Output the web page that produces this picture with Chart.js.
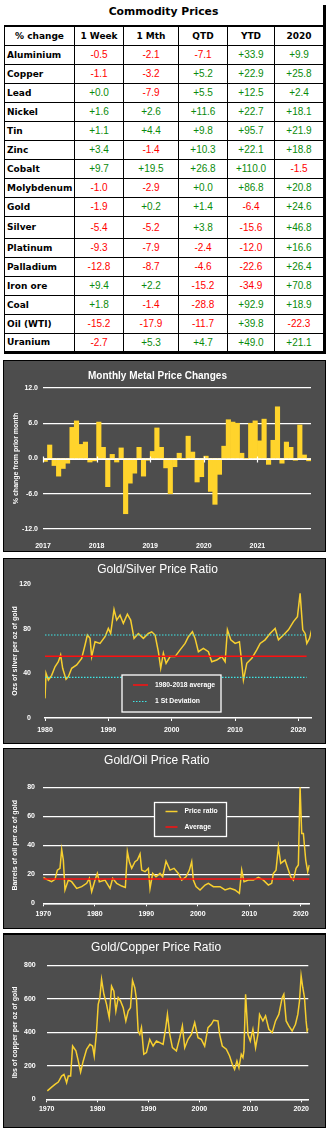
<!DOCTYPE html>
<html lang="en">
<head>
<meta charset="UTF-8">
<title>Commodity Prices</title>
<script src="https://cdn.jsdelivr.net/npm/chart.js@4"></script>
<style>
  body { margin: 0; width: 330px; height: 1132px; background: #fff; position: relative; overflow: hidden; }
  #prices { position: absolute; left: 4px; top: 5px; width: 319px; border-right: 3px solid #000; }
  #prices .caption { height: 20px; line-height: 20px; text-align: center; font: bold 10.8px 'DejaVu Sans', sans-serif; color: #000; }
  #prices table { border-collapse: collapse; table-layout: fixed; width: 319px; border-bottom: 3px solid #000; }
  #prices th, #prices td { border: 1px solid #000; padding: 0; text-align: center; }
  #prices tr { height: 19px; }
  #prices thead tr { height: 19px; }
  #prices th { border-top: 2px solid #000; font: bold 9px 'DejaVu Sans', sans-serif; color: #000; }
  #prices td { font: 10px 'Liberation Sans', Arial, sans-serif; }
  #prices td.name { text-align: left; padding-left: 2px; font: bold 9px 'DejaVu Sans', sans-serif; color: #000; }
  #prices tbody tr:nth-child(10) { height: 22px; }
  #prices td.up { color: #0a8a0a; }
  #prices td.down { color: #ff0000; }
  .panel { position: absolute; left: 3px; width: 321px; background: #4d4d4d; border: 1px solid #000; }
  .panel canvas { display: block; }
  #p1 { top: 360px; height: 190px; }
  #p2 { top: 558px; height: 184px; }
  #p3 { top: 748px; height: 179px; }
  #p4 { top: 933px; height: 192px; border-top-width: 2px; }
</style>
</head>
<body>
  <div id="prices">
    <div class="caption">Commodity Prices</div>
    <table>
      <colgroup>
        <col style="width:70px"><col style="width:49px"><col style="width:55px">
        <col style="width:49px"><col style="width:47px"><col style="width:49px">
      </colgroup>
      <thead><tr id="head-row"></tr></thead>
      <tbody id="price-rows"></tbody>
    </table>
  </div>

  <div class="panel" id="p1"><canvas id="monthlyChart" width="321" height="190"></canvas></div>
  <div class="panel" id="p2"><canvas id="silverChart" width="321" height="184"></canvas></div>
  <div class="panel" id="p3"><canvas id="oilChart" width="321" height="179"></canvas></div>
  <div class="panel" id="p4"><canvas id="copperChart" width="321" height="192"></canvas></div>

<script>
// ---- table: % change by period ----
const periods = ['% change', '1 Week', '1 Mth', 'QTD', 'YTD', '2020'];
const commodities = ['Aluminium', 'Copper', 'Lead', 'Nickel', 'Tin', 'Zinc', 'Cobalt', 'Molybdenum',
  'Gold', 'Silver', 'Platinum', 'Palladium', 'Iron ore', 'Coal', 'Oil (WTI)', 'Uranium'];
const chgWeek  = [-0.5, -1.1, 0.0, 1.6, 1.1, 3.4, 9.7, -1.0, -1.9, -5.4, -9.3, -12.8, 9.4, 1.8, -15.2, -2.7];
const chgMonth = [-2.1, -3.2, -7.9, 2.6, 4.4, -1.4, 19.5, -2.9, 0.2, -5.2, -7.9, -8.7, 2.2, -1.4, -17.9, 5.3];
const chgQtd   = [-7.1, 5.2, 5.5, 11.6, 9.8, 10.3, 26.8, 0.0, 1.4, 3.8, -2.4, -4.6, -15.2, -28.8, -11.7, 4.7];
const chgYtd   = [33.9, 22.9, 12.5, 22.7, 95.7, 22.1, 110.0, 86.8, -6.4, -15.6, -12.0, -22.6, -34.9, 92.9, 39.8, 49.0];
const chg2020  = [9.9, 25.8, 2.4, 18.1, 21.9, 18.8, -1.5, 20.8, 24.6, 46.8, 16.6, 26.4, 70.8, 18.9, -22.3, 21.1];

// ---- monthly metal price changes, Jan 2017 onwards ----
const barStartYear = 2017;
const barYearTicks = [2017, 2018, 2019, 2020, 2021];
const barValueTicks = [-12, -6, 0, 6, 12];
const monthlyChange = [
  -0.5, 2.3, -1.2, -3.0, -1.7, -0.8, 5.3, 6.4, 2.4, 2.8, -0.6, -0.4,
  6.2, 1.9, -4.8, 0.7, -0.6, 1.8, -9.4, -4.2, -2.5, 1.9, -3.0, -0.3,
  1.2, 5.2, 1.9, -1.6, -6.0, -1.4, 0.9, 0.0, 3.8, 1.1, -4.0, -3.1,
  0.4, -5.6, -7.8, -2.7, 2.1, 6.6, 6.2, 6.0, 0.9, 0.0, 6.0, 6.4,
  3.0, 6.7, -1.0, 3.1, 8.8, -0.8, 2.8, 1.9, -0.3, 5.7, 0.6, -0.4
];

// ---- gold/silver ratio ----
const gsYearTicks = [1980, 1990, 2000, 2010, 2020];
const gsValueTicks = [0, 40, 80, 120];
const gsYears = [
  1980.00, 1980.16, 1980.53, 1981.05, 1981.58, 1982.11, 1982.47, 1982.79, 1983.32, 1983.69,
  1984.21, 1985.00, 1985.79, 1986.32, 1986.69, 1987.11, 1987.37, 1987.90, 1988.69, 1989.48,
  1990.00, 1990.37, 1990.90, 1991.32, 1991.85, 1992.37, 1993.01, 1993.53, 1994.06, 1994.74,
  1995.53, 1996.32, 1996.85, 1997.38, 1997.90, 1998.27, 1998.69, 1999.12, 1999.75, 2000.54,
  2001.33, 2002.12, 2002.64, 2003.28, 2003.70, 2004.22, 2005.01, 2005.80, 2006.33, 2007.12,
  2007.91, 2008.44, 2008.80, 2009.33, 2010.02, 2010.70, 2010.96, 2011.33, 2011.86, 2012.65,
  2013.44, 2013.97, 2014.75, 2015.54, 2016.34, 2016.86, 2017.65, 2018.44, 2019.23, 2019.86,
  2020.28, 2020.70, 2021.07, 2021.34, 2021.76, 2022.13
];
const gsRatio = [
  17.6, 40.0, 34.0, 38.2, 45.9, 50.4, 56.4, 44.5, 34.6, 37.0,
  44.5, 47.5, 53.4, 65.4, 74.3, 71.3, 54.9, 68.3, 66.8, 72.8,
  80.2, 75.7, 97.2, 87.7, 92.1, 84.7, 93.0, 87.7, 71.3, 75.7,
  71.3, 75.7, 77.2, 74.3, 59.4, 44.5, 58.0, 49.0, 55.0, 55.0,
  61.0, 66.8, 72.8, 77.2, 71.3, 59.4, 62.4, 59.4, 50.4, 51.9,
  55.0, 50.4, 79.0, 70.0, 66.8, 68.3, 55.0, 34.0, 49.0, 53.4,
  61.0, 66.8, 70.0, 75.7, 80.2, 70.0, 74.3, 79.0, 86.3, 90.8,
  111.6, 79.0, 75.7, 66.8, 71.3, 79.5
];
const gsRefYears = [1980, 2021.3];
const gsAverage = 55.2;
const gsStdHigh = 74.3;
const gsStdLow = 36.4;

// ---- gold/oil ratio ----
const decadeTicks = [1970, 1980, 1990, 2000, 2010, 2020];
const goValueTicks = [0, 20, 40, 60, 80];
const goYears = [
  1970.00, 1970.65, 1971.60, 1972.27, 1972.73, 1973.24, 1973.57, 1973.89, 1974.21, 1974.86,
  1975.50, 1976.48, 1977.45, 1978.42, 1978.94, 1979.39, 1980.04, 1980.49, 1980.88, 1981.98,
  1982.95, 1983.47, 1984.25, 1985.22, 1985.93, 1986.32, 1986.71, 1987.16, 1987.80, 1988.26,
  1988.78, 1989.10, 1989.75, 1990.40, 1990.72, 1991.24, 1991.88, 1992.66, 1993.18, 1993.83,
  1994.60, 1995.38, 1996.22, 1996.87, 1997.71, 1998.36, 1998.81, 1999.13, 1999.65, 2000.43,
  2001.40, 2002.05, 2003.02, 2004.31, 2005.28, 2006.25, 2007.22, 2008.07, 2008.52, 2008.97,
  2009.81, 2010.78, 2011.75, 2012.73, 2013.70, 2014.34, 2014.67, 2015.18, 2015.64, 2016.09,
  2016.93, 2017.58, 2018.03, 2018.55, 2019.07, 2019.52, 2019.85, 2020.17, 2020.49, 2020.95,
  2021.33, 2021.66
];
const goRatio = [
  17.9, 16.5, 14.9, 16.5, 22.9, 24.1, 37.2, 29.8, 9.2, 16.0,
  14.9, 10.3, 11.5, 13.8, 17.2, 8.0, 16.0, 20.6, 14.9, 16.0,
  10.3, 17.2, 13.8, 11.9, 11.0, 35.6, 28.7, 24.1, 28.7, 29.8,
  34.0, 22.9, 21.8, 24.1, 10.3, 20.6, 18.3, 20.6, 18.3, 29.1,
  22.9, 24.1, 20.6, 16.0, 18.3, 22.9, 28.7, 16.0, 11.5, 9.2,
  12.6, 13.8, 11.5, 11.5, 9.2, 10.3, 9.2, 6.9, 22.9, 14.9,
  16.0, 16.0, 17.9, 16.0, 12.6, 13.8, 20.6, 22.9, 39.0, 27.5,
  29.8, 22.9, 18.3, 16.0, 24.1, 26.4, 80.4, 48.2, 48.2, 29.8,
  21.8, 26.4
];
const goRefYears = [1970, 2021.66];
const goAverage = 16.8;

// ---- gold/copper ratio ----
const gcValueTicks = [0, 200, 400, 600, 800];
const gcYears = [
  1970.12, 1970.97, 1971.63, 1972.28, 1972.93, 1973.39, 1973.91, 1974.24, 1974.70, 1975.09,
  1975.74, 1976.20, 1976.66, 1977.18, 1977.84, 1978.49, 1979.01, 1979.34, 1979.80, 1980.12,
  1980.45, 1980.78, 1981.24, 1981.76, 1982.28, 1982.74, 1983.20, 1983.59, 1984.05, 1984.50,
  1985.03, 1985.55, 1986.01, 1986.46, 1986.86, 1987.31, 1987.64, 1987.97, 1988.29, 1988.62,
  1989.08, 1989.60, 1990.25, 1990.91, 1991.56, 1992.22, 1992.87, 1993.39, 1993.72, 1994.18,
  1994.70, 1995.48, 1996.14, 1996.66, 1997.12, 1997.77, 1998.42, 1999.08, 1999.73, 2000.38,
  2001.04, 2001.69, 2002.35, 2002.80, 2003.65, 2003.98, 2004.50, 2005.29, 2005.94, 2006.46,
  2006.92, 2007.38, 2007.77, 2008.23, 2008.56, 2008.75, 2009.08, 2009.54, 2010.00, 2010.52,
  2011.04, 2011.50, 2011.82, 2012.48, 2013.00, 2013.65, 2014.31, 2014.96, 2015.61, 2016.27,
  2016.59, 2017.05, 2017.57, 2018.23, 2018.88, 2019.34, 2019.67, 2019.99, 2020.32, 2020.65,
  2020.97, 2021.17, 2021.50
];
const gcRatio = [
  50, 73, 89, 103, 139, 149, 99, 139, 139, 318,
  289, 229, 163, 229, 299, 328, 318, 259, 408, 567,
  607, 716, 627, 567, 488, 676, 646, 527, 607, 587,
  547, 468, 527, 547, 710, 666, 597, 408, 388, 428,
  269, 279, 358, 318, 348, 338, 328, 428, 507, 388,
  308, 289, 368, 438, 308, 358, 388, 458, 368, 358,
  318, 428, 448, 472, 468, 388, 318, 299, 259, 209,
  179, 229, 189, 269, 249, 289, 627, 388, 348, 418,
  308, 388, 507, 468, 498, 418, 398, 468, 507, 607,
  627, 468, 438, 408, 448, 507, 587, 737, 666, 607,
  468, 408, 424
];

// ---- build the table ----
function fmt(v) {
  return (v >= 0 ? '+' : '') + v.toFixed(1);
}

const headRow = document.getElementById('head-row');
periods.forEach(p => {
  const th = document.createElement('th');
  th.textContent = p;
  headRow.appendChild(th);
});

const body = document.getElementById('price-rows');
commodities.forEach((name, i) => {
  const tr = document.createElement('tr');
  let html = '<td class="name">' + name + '</td>';
  [chgWeek, chgMonth, chgQtd, chgYtd, chg2020].forEach(col => {
    const v = col[i];
    html += '<td class="' + (v >= 0 ? 'up' : 'down') + '">' + fmt(v) + '</td>';
  });
  tr.innerHTML = html;
  body.appendChild(tr);
});

// ---- charts ----
Chart.defaults.font.family = "'Liberation Sans', Arial, sans-serif";
Chart.defaults.color = '#ffffff';
Chart.defaults.animation = false;

const PANEL_BG = '#4d4d4d';
const GOLD = '#f7cf2f';
const tickFont = { size: 7, weight: 'bold' };
const axisTitleFont = { size: 7, weight: 'bold' };

function toPoints(xs, ys) {
  return xs.map((x, i) => ({ x: x, y: ys[i] }));
}

function flatLine(span, value) {
  return span.map(x => ({ x: x, y: value }));
}

// white zero line with year marks, drawn over the bars
const zeroAxis = {
  id: 'zeroAxis',
  afterDatasetsDraw(chart) {
    const { ctx, chartArea, scales } = chart;
    const y0 = Math.round(scales.y.getPixelForValue(0)) + 0.5;
    ctx.save();
    ctx.strokeStyle = '#ffffff';
    ctx.lineWidth = 1.2;
    ctx.beginPath();
    ctx.moveTo(chartArea.left, y0);
    ctx.lineTo(chartArea.right, y0);
    barYearTicks.forEach(yr => {
      const px = Math.round(scales.x.getPixelForValue(yr)) + 0.5;
      ctx.moveTo(px, y0 - 3);
      ctx.lineTo(px, y0 + 3);
    });
    ctx.stroke();
    ctx.restore();
  }
};

// framed legend placed inside the plot
const boxLegend = {
  id: 'boxLegend',
  afterDatasetsDraw(chart, args, opts) {
    if (!opts.box) return;
    const ctx = chart.ctx;
    const b = opts.box;
    ctx.save();
    ctx.fillStyle = PANEL_BG;
    ctx.fillRect(b.x, b.y, b.w, b.h);
    ctx.strokeStyle = '#ffffff';
    ctx.lineWidth = 1.3;
    ctx.strokeRect(b.x, b.y, b.w, b.h);
    ctx.font = "bold 6.8px 'Liberation Sans', Arial, sans-serif";
    ctx.textBaseline = 'middle';
    opts.items.forEach((dsIndex, i) => {
      const ds = chart.data.datasets[dsIndex];
      const y = b.y + opts.rows[i];
      ctx.strokeStyle = ds.borderColor;
      ctx.lineWidth = ds.borderWidth;
      ctx.setLineDash(ds.borderDash || []);
      ctx.beginPath();
      ctx.moveTo(b.x + opts.lineX[0], y);
      ctx.lineTo(b.x + opts.lineX[1], y);
      ctx.stroke();
      ctx.setLineDash([]);
      ctx.fillStyle = '#ffffff';
      ctx.fillText(ds.label, b.x + opts.textX, y);
    });
    ctx.restore();
  }
};

function makeTitle(text, size, weight, top, bottom) {
  return {
    display: true,
    text: text,
    color: '#ffffff',
    font: { size: size, weight: weight, lineHeight: 1.2 },
    padding: { top: top, bottom: bottom }
  };
}

function yearAxis(ticksList, min, max, height, pad, withLine) {
  return {
    type: 'linear',
    min: min,
    max: max,
    offset: false,
    afterBuildTicks: s => { s.ticks = ticksList.map(v => ({ value: v })); },
    afterFit: s => { s.height = height; },
    ticks: { font: tickFont, color: '#ffffff', padding: pad, callback: v => String(v), maxRotation: 0, autoSkip: false },
    grid: withLine
      ? { display: true, drawOnChartArea: false, drawTicks: true, tickLength: 3, color: '#ffffff', offset: false }
      : { display: false, offset: false },
    border: withLine ? { display: true, color: '#ffffff', width: 1.5 } : { display: false }
  };
}

function valueAxis(ticksList, width, pad, title, titlePad, gridOn, fmtFn) {
  return {
    min: ticksList[0],
    max: ticksList[ticksList.length - 1],
    afterBuildTicks: s => { s.ticks = ticksList.map(v => ({ value: v })); },
    afterFit: s => { s.width = width; },
    ticks: { font: tickFont, color: '#ffffff', padding: pad, callback: fmtFn || (v => String(v)) },
    grid: gridOn ? { color: '#ffffff', lineWidth: 1.2, drawTicks: false } : { display: false },
    border: { display: false },
    title: { display: true, text: title, color: '#ffffff', font: axisTitleFont, padding: { top: titlePad, bottom: 0 } }
  };
}

// Monthly Metal Price Changes
new Chart(document.getElementById('monthlyChart'), {
  type: 'bar',
  data: {
    datasets: [{
      label: 'Monthly change',
      data: monthlyChange.map((v, i) => ({ x: barStartYear + (i + 0.5) / 12, y: v })),
      backgroundColor: '#ffd42c',
      borderWidth: 0,
      barPercentage: 1,
      categoryPercentage: 1
    }]
  },
  options: {
    responsive: false,
    layout: { padding: { left: 0, right: 14, top: 0, bottom: 0 } },
    plugins: {
      legend: { display: false },
      tooltip: { enabled: false },
      title: makeTitle('Monthly Metal Price Changes', 10, 'bold', 9, 6)
    },
    scales: {
      x: yearAxis(barYearTicks, barStartYear, barStartYear + 5, 22, 4.8, false),
      y: valueAxis(barValueTicks, 39, 5, '% change from prior month', 8, true, v => v.toFixed(1))
    }
  },
  plugins: [zeroAxis]
});

function ratioChart(canvasId, cfg) {
  return new Chart(document.getElementById(canvasId), {
    type: 'line',
    data: { datasets: cfg.datasets },
    options: {
      responsive: false,
      layout: { padding: { left: 0, right: cfg.padRight, top: 0, bottom: 0 } },
      elements: { point: { radius: 0 }, line: { tension: 0 } },
      plugins: {
        legend: { display: false },
        tooltip: { enabled: false },
        title: makeTitle(cfg.title, 12, 'normal', cfg.titleTop, cfg.titleBottom),
        boxLegend: cfg.legend || {}
      },
      scales: {
        x: yearAxis(cfg.xTicks, cfg.xMin, cfg.xMax, cfg.xHeight, cfg.xPad, true),
        y: valueAxis(cfg.yTicks, cfg.yWidth, cfg.yPad, cfg.yTitle, 6.8, cfg.grid)
      }
    },
    plugins: [boxLegend]
  });
}

// Gold/Silver Price Ratio
ratioChart('silverChart', {
  title: 'Gold/Silver Price Ratio', titleTop: 3.8, titleBottom: 6.8,
  xTicks: gsYearTicks, xMin: 1980, xMax: 2022, xHeight: 25, xPad: 5,
  yTicks: gsValueTicks, yWidth: 41, yPad: 6, yTitle: 'Ozs of silver per oz of gold',
  grid: false, padRight: 14,
  datasets: [
    { label: '1980-2018 average', data: flatLine(gsRefYears, gsAverage), borderColor: '#ff1010', borderWidth: 1.5 },
    { label: '1 St Deviation', data: flatLine(gsRefYears, gsStdHigh), borderColor: '#3ee6e6', borderWidth: 1.1, borderDash: [1.5, 1.5] },
    { label: '1 St Deviation', data: flatLine(gsRefYears, gsStdLow), borderColor: '#3ee6e6', borderWidth: 1.1, borderDash: [1.5, 1.5] },
    { label: 'Gold/silver ratio', data: toPoints(gsYears, gsRatio), borderColor: GOLD, borderWidth: 1.5 }
  ],
  legend: { box: { x: 118, y: 116, w: 99, h: 37 }, items: [0, 1], rows: [10, 26.5], lineX: [11, 26], textX: 33 }
});

// Gold/Oil Price Ratio
ratioChart('oilChart', {
  title: 'Gold/Oil Price Ratio', titleTop: 4.8, titleBottom: 19.1,
  xTicks: decadeTicks, xMin: 1970, xMax: 2021.7, xHeight: 24.7, xPad: 3.8,
  yTicks: goValueTicks, yWidth: 39.3, yPad: 8.3, yTitle: 'Barrels of oil per oz of gold',
  grid: true, padRight: 15.4,
  datasets: [
    { label: 'Average', data: flatLine(goRefYears, goAverage), borderColor: '#ff1010', borderWidth: 1.5 },
    { label: 'Price ratio', data: toPoints(goYears, goRatio), borderColor: GOLD, borderWidth: 1.5 }
  ],
  legend: { box: { x: 150.5, y: 53.5, w: 72, h: 34 }, items: [1, 0], rows: [9, 24.5], lineX: [11, 23], textX: 30 }
});

// Gold/Copper Price Ratio
ratioChart('copperChart', {
  title: 'Gold/Copper Price Ratio', titleTop: 5.8, titleBottom: 10.1,
  xTicks: decadeTicks, xMin: 1970, xMax: 2021.4, xHeight: 27.7, xPad: 2.2,
  yTicks: gcValueTicks, yWidth: 42.7, yPad: 11, yTitle: 'lbs of copper per oz of gold',
  grid: true, padRight: 16.7,
  datasets: [
    { label: 'Gold/copper ratio', data: toPoints(gcYears, gcRatio), borderColor: GOLD, borderWidth: 1.5 }
  ]
});
</script>
</body>
</html>
